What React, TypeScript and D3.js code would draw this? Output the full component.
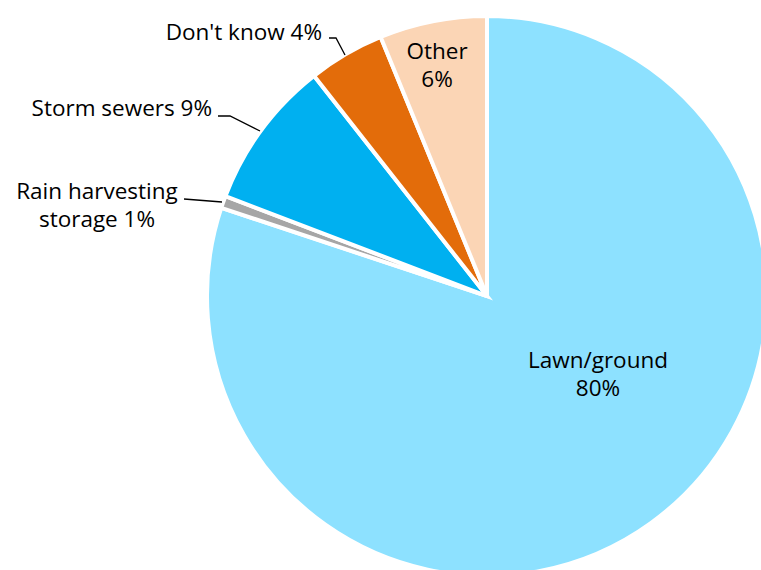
import React from "react";
import * as d3 from "d3";

const categories = ["Lawn/ground", "Rain harvesting storage", "Storm sewers", "Don't know", "Other"];
const values = [80.1, 0.7, 8.6, 4.4, 6.2];
const colors = ["#8DE1FF", "#A6A6A6", "#00B0F0", "#E36C0A", "#FBD5B5"];

const W = 761, H = 570;
const cx = 487, cy = 296, R = 280;

const pct = (v: number) => `${Math.round(v)}%`;

export default function App() {
  const pie = d3.pie<number>().sort(null).value((d) => d);
  const arcs = pie(values);
  const arc = d3.arc<d3.PieArcDatum<number>>().innerRadius(0).outerRadius(R);
  const font = "'Open Sans', sans-serif";
  const fs = 22.5;
  return (
    <svg width={W} height={H} style={{ position: "absolute", left: 0, top: 0 }}>
      <g transform={`translate(${cx},${cy})`}>
        {arcs.map((a, i) => (
          <path key={i} d={arc(a) as string} fill={colors[i]} stroke="#fff" strokeWidth={4} strokeLinejoin="miter" />
        ))}
      </g>
      {/* leader lines */}
      <polyline points="329,38 336,38 345,55" fill="none" stroke="#000" strokeWidth={1.3} />
      <polyline points="218,116 230,116 260,131" fill="none" stroke="#000" strokeWidth={1.3} />
      <polyline points="184,199 222,202" fill="none" stroke="#000" strokeWidth={1.3} />
      <g fontFamily={font} fontSize={fs} fill="#000">
        <text x={322} y={40} textAnchor="end">{`${categories[3]} ${pct(values[3])}`}</text>
        <text x={212} y={116} textAnchor="end">{`${categories[2]} ${pct(values[2])}`}</text>
        <text x={97} y={199} textAnchor="middle">Rain harvesting</text>
        <text x={97} y={227} textAnchor="middle">{`storage ${pct(values[1])}`}</text>
        <text x={437} y={59} textAnchor="middle">{categories[4]}</text>
        <text x={437} y={87} textAnchor="middle">{pct(values[4])}</text>
        <text x={598} y={368} textAnchor="middle">{categories[0]}</text>
        <text x={598} y={396} textAnchor="middle">{pct(values[0])}</text>
      </g>
    </svg>
  );
}
